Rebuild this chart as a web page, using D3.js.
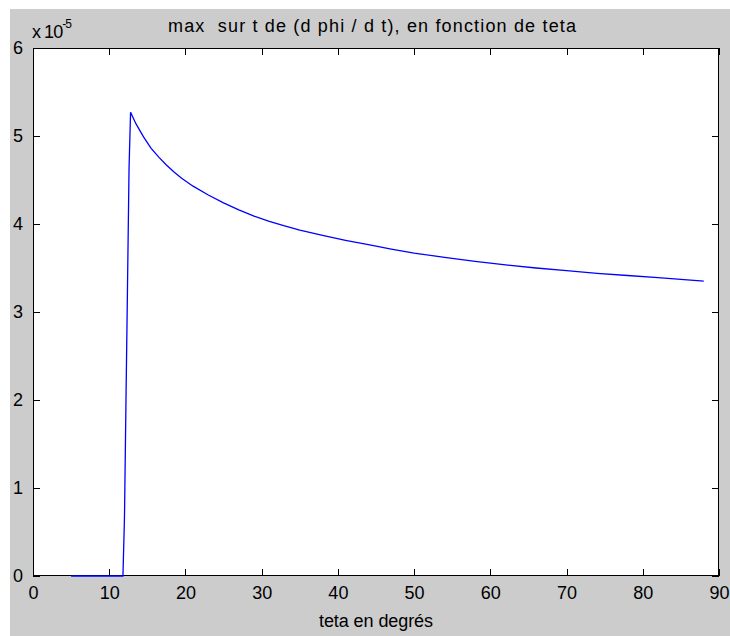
<!DOCTYPE html>
<html>
<head>
<meta charset="utf-8">
<script src="https://cdn.jsdelivr.net/npm/d3@7"></script>
<style>
  body { margin: 0; background: #fff; }
  svg text { font-family: "Liberation Sans", Arial, sans-serif; fill: #000; }
</style>
</head>
<body>
<div id="graph"></div>
<script>
// data (theta in degrees, max dphi/dt in units of 1e-5)
var teta = [5, 11.8, 12.0, 12.2, 12.4, 12.6, 12.8, 13.5, 14.5, 15.5, 16.5, 17.5, 18.5,
            19.5, 21, 23, 25, 27, 29, 31, 33, 35, 38, 41, 44, 47, 50, 54, 58, 62,
            66, 70, 74, 78, 82, 85, 88];
var dphi = [0, 0, 0.66, 2.0, 3.3, 4.63, 5.27, 5.14, 4.99, 4.86, 4.76, 4.67, 4.59,
            4.52, 4.43, 4.33, 4.24, 4.16, 4.09, 4.03, 3.98, 3.93, 3.87, 3.815, 3.765,
            3.715, 3.67, 3.62, 3.575, 3.535, 3.50, 3.47, 3.44, 3.415, 3.39, 3.37, 3.35];
var xTicks = [0, 10, 20, 30, 40, 50, 60, 70, 80, 90];
var yTicks = [0, 1, 2, 3, 4, 5, 6];

var w = 730, h = 636;
// plot box (window.top is read-only, so use other names)
var pLeft = 33, pRight = 719, pTop = 48, pBottom = 576;

var svg = d3.select("#graph").append("svg")
    .attr("width", w)
    .attr("height", h);

// grey figure background, white axes area
svg.append("rect")
    .attr("x", 10).attr("y", 9)
    .attr("width", w - 10).attr("height", h - 9)
    .attr("fill", "#cccccc");
svg.append("rect")
    .attr("x", pLeft).attr("y", pTop)
    .attr("width", pRight - pLeft).attr("height", pBottom - pTop)
    .attr("fill", "#fff");

var xScale = d3.scaleLinear().domain([0, 90]).range([pLeft, pRight]);
var yScale = d3.scaleLinear().domain([0, 6]).range([pBottom, pTop]);

// ticks point inwards, on all four sides (box on)
function styleAxis(g) {
  g.selectAll("path").remove();
  g.selectAll("line").attr("stroke", "#000").attr("shape-rendering", "crispEdges");
  g.selectAll("text").attr("font-size", "18px").attr("fill", "#000")
    .attr("font-family", "Liberation Sans, Arial, sans-serif");
}

svg.append("g")
    .attr("transform", "translate(0," + pBottom + ")")
    .call(d3.axisBottom(xScale).tickValues(xTicks).tickFormat(d3.format("d"))
      .tickSize(-7).tickPadding(10))
    .call(styleAxis);
svg.append("g")
    .attr("transform", "translate(0," + pTop + ")")
    .call(d3.axisTop(xScale).tickValues(xTicks).tickSize(-7).tickFormat(""))
    .call(styleAxis);
svg.append("g")
    .attr("transform", "translate(" + pLeft + ",0)")
    .call(d3.axisLeft(yScale).tickValues(yTicks).tickFormat(d3.format("d"))
      .tickSize(-7).tickPadding(10))
    .call(styleAxis);
svg.append("g")
    .attr("transform", "translate(" + pRight + ",0)")
    .call(d3.axisRight(yScale).tickValues(yTicks).tickSize(-7).tickFormat(""))
    .call(styleAxis);

// the box
svg.append("rect")
    .attr("x", pLeft + 0.5).attr("y", pTop + 0.5)
    .attr("width", pRight - pLeft - 1).attr("height", pBottom - pTop - 1)
    .attr("fill", "none")
    .attr("stroke", "#000")
    .attr("shape-rendering", "crispEdges");

var line = d3.line()
    .x(function(d, i){ return xScale(teta[i]); })
    .y(function(d){ return yScale(d); });

svg.append("path")
    .datum(dphi)
    .attr("d", line)
    .attr("fill", "none")
    .attr("stroke", "#0000ff")
    .attr("stroke-width", 1.3);

// exponent label
var ex = svg.append("text")
    .attr("x", 32).attr("y", 38)
    .attr("font-size", "18px")
    .attr("textLength", 40);
ex.append("tspan").text("x 10");
ex.append("tspan").attr("dy", -10).attr("font-size", "12px").text("-5");

// title and x label
svg.append("text")
    .attr("x", 168).attr("y", 32)
    .attr("font-size", "18px")
    .attr("xml:space", "preserve")
    .attr("textLength", 408)
    .attr("lengthAdjust", "spacing")
    .text("max  sur t de (d phi / d t), en fonction de teta");

svg.append("text")
    .attr("x", 319).attr("y", 627)
    .attr("font-size", "18px")
    .attr("textLength", 114)
    .attr("lengthAdjust", "spacing")
    .text("teta en degrés");
</script>
</body>
</html>
